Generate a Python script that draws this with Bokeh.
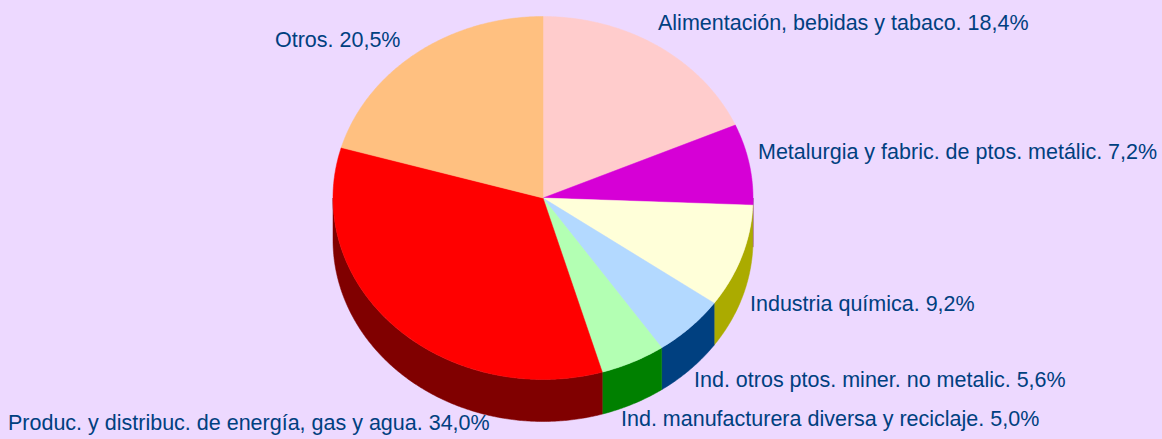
import numpy as np
from bokeh.plotting import figure
from bokeh.models import Range1d
from bokeh.core.properties import value
from bokeh.embed import file_html
from bokeh.resources import INLINE

names = ["Alimentación, bebidas y tabaco", "Metalurgia y fabric. de ptos. metálic", "Industria química",
         "Ind. otros ptos. miner. no metalic", "Ind. manufacturera diversa y reciclaje",
         "Produc. y distribuc. de energía, gas y agua", "Otros"]
shares = [18.4, 7.2, 9.2, 5.6, 5.0, 34.0, 20.5]
share_labels = ["18,4%", "7,2%", "9,2%", "5,6%", "5,0%", "34,0%", "20,5%"]
top_colors = ["#FFCCCC", "#D600D6", "#FFFFD9", "#B3D9FF", "#B3FFB3", "#FF0000", "#FFC080"]
side_colors = ["#806666", "#6B006B", "#ABAB00", "#004080", "#008000", "#800000", "#806040"]

BG = "#EDD9FF"
TEXT = "#004080"
CX, CY, RX, RY, DEPTH = 542.5, 197.5, 210, 181.5, 42
label_x = [657.5, 757.5, 749.5, 693.5, 620.5, 7.5, 274.5]
label_y = [22, 151, 303, 379, 418, 422, 39]

p = figure(width=1162, height=439, output_backend="svg", toolbar_location=None,
           x_range=Range1d(0, 1162), y_range=Range1d(439, 0), min_border=0,
           background_fill_color=BG, border_fill_color=BG, outline_line_color=None)
p.axis.visible = False
p.grid.visible = False

def arc(a0, a1, dy=0.0):
    t = np.radians(np.linspace(a0, a1, max(3, int(abs(a1 - a0) * 2))))
    return CX + RX * np.sin(t), CY + dy - RY * np.cos(t)

edges = np.cumsum([0] + shares) * 360 / sum(shares)
# side walls
for i in range(len(shares)):
    a0, a1 = max(edges[i], 90), min(edges[i + 1], 270)
    if a1 <= a0:
        continue
    xt, yt = arc(a0, a1)
    xb, yb = arc(a0, a1, DEPTH)
    p.patch(np.r_[xt, xb[::-1]], np.r_[yt, yb[::-1]], fill_color=side_colors[i], line_color=side_colors[i], line_width=0.5)
# top slices
for i in range(len(shares)):
    x, y = arc(edges[i], edges[i + 1])
    p.patch(np.r_[CX, x], np.r_[CY, y], fill_color=top_colors[i], line_color=top_colors[i], line_width=0.5)

for n, s, x, y in zip(names, share_labels, label_x, label_y):
    p.text([x], [y], text=[f"{n}. {s}"], text_font=value("Liberation Sans"), text_font_size="21.5px",
           text_color=TEXT, text_baseline="middle", text_align="left")

html = file_html(p, INLINE)
html = html.replace("</head>", f"<style>html,body{{margin:0;padding:0;overflow:hidden;background:{BG}}}</style></head>", 1)
open("out.html", "w").write(html)
